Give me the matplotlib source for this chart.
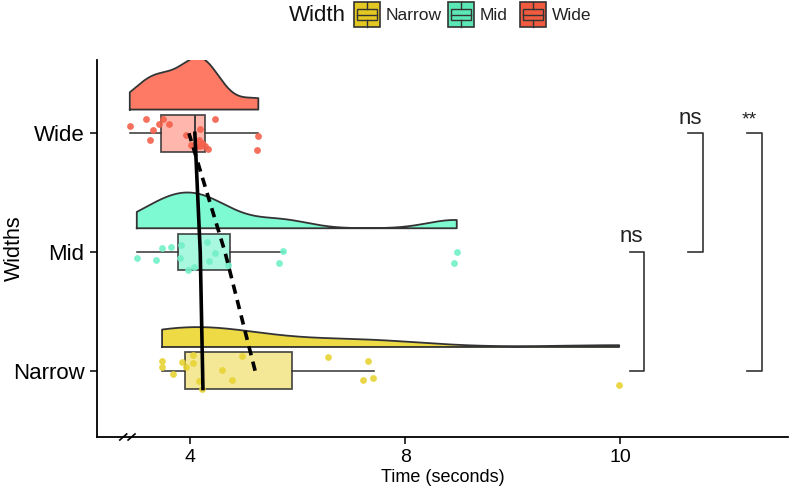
import numpy as np
import matplotlib
matplotlib.use("Agg")
import matplotlib.pyplot as plt
from matplotlib.patches import Rectangle

plt.rcParams['font.family'] = ['Liberation Sans', 'DejaVu Sans']

# ---- data (seconds) ----
groups = ['Narrow', 'Mid', 'Wide']
ypos = [1, 2, 3]

narrow_t = [3.48, 3.48, 3.68, 3.85, 3.93, 4.06, 4.06, 4.17, 4.23, 4.59, 4.78, 4.96,
            6.56, 7.22, 7.31, 7.41, 9.99]
narrow_jit = [0.084, 0.034, -0.025, 0.071, 0.034, 0.132, 0.068, -0.087, -0.154, 0.008,
              -0.078, 0.124, 0.113, -0.081, 0.084, -0.059, -0.121]
mid_t = [3.01, 3.36, 3.47, 3.65, 3.83, 3.81, 3.97, 4.08, 4.31, 4.47, 4.35, 4.70,
         5.72, 5.65, 8.48, 8.45]
mid_jit = [-0.048, -0.068, 0.034, 0.042, 0.056, -0.051, -0.149, -0.130, 0.081, -0.008,
           -0.073, -0.107, 0.011, -0.096, 0.003, -0.090]
wide_t = [2.88, 3.18, 3.26, 3.32, 3.42, 3.50, 3.60, 3.93, 4.02, 4.13, 4.17, 4.19, 4.19,
          4.22, 4.28, 4.34, 4.47, 5.25, 5.27]
wide_jit = [0.062, 0.121, -0.053, 0.028, 0.078, 0.121, 0.078, -0.017, -0.095, -0.105,
            -0.060, 0.040, -0.110, -0.085, -0.110, -0.135, 0.121, -0.138, -0.025]

# box stats: whisker low, q1, median, q3, whisker high
box_narrow = [3.48, 3.91, 4.24, 5.90, 7.42]
box_mid = [3.01, 3.78, 4.19, 4.74, 5.75]
box_wide = [2.88, 3.46, 4.09, 4.28, 5.27]
means = [5.21, 4.65, 3.98]

times = [narrow_t, mid_t, wide_t]
jits = [narrow_jit, mid_jit, wide_jit]
boxes = [box_narrow, box_mid, box_wide]

dens_col = ['#EDDA45', '#7DFAD2', '#FF7A64']
box_col = ['#F3E585', '#98F7DA', '#FFA99F']
pt_col = ['#E8D335', '#72F0C8', '#F4604A']
key_col = ['#E3C822', '#5CE8B6', '#F05B40']
edge = '#333333'


# axis: 4 -> 8 -> 10 spaced evenly
def fwd(x):
    x = np.asarray(x, float)
    return np.where(x < 8, (x - 4) / 4, 1 + (x - 8) / 2)


def inv(u):
    u = np.asarray(u, float)
    return np.where(u < 1, 4 + 4 * u, 8 + 2 * (u - 1))


def kde(vals, adjust=1.15):
    u = fwd(vals)
    n = len(u)
    sd = u.std(ddof=1)
    iqr = np.subtract(*np.percentile(u, [75, 25]))
    bw = adjust * 0.9 * min(sd, iqr / 1.34) * n ** -0.2
    grid = np.linspace(u.min(), u.max(), 400)
    d = np.exp(-0.5 * ((grid[:, None] - u[None, :]) / bw) ** 2).sum(1) / (n * bw * np.sqrt(2 * np.pi))
    return inv(grid), d


fig = plt.figure(figsize=(7.93, 4.91), dpi=100)
ax = fig.add_axes([97 / 793, 54 / 491, 691 / 793, 377 / 491])
ax.set_xscale('function', functions=(fwd, inv))

dens = [kde(t) for t in times]
dmax = max(d.max() for _, d in dens)
for i in range(3):
    gx, d = dens[i]
    h = d / dmax * 0.44
    base = ypos[i] + 0.2
    ax.fill_between(gx, base, base + h, color=dens_col[i], lw=0, zorder=2)
    ax.plot(np.r_[gx[0], gx, gx[-1], gx[0]], np.r_[base, base + h, base, base],
            color=edge, lw=1.3, zorder=3)

    ax.scatter(times[i], ypos[i] + np.array(jits[i]), s=24, color=pt_col[i],
               alpha=0.9, lw=0, zorder=5)

    st = dict(whislo=boxes[i][0], q1=boxes[i][1], med=boxes[i][2], q3=boxes[i][3],
              whishi=boxes[i][4], fliers=[])
    ax.bxp([st], positions=[ypos[i]], vert=False, widths=0.31, patch_artist=True,
           showcaps=False,
           boxprops=dict(facecolor=box_col[i], edgecolor=edge, lw=1.3, alpha=0.85),
           medianprops=dict(color=edge, lw=1.3),
           whiskerprops=dict(color=edge, lw=1.1), zorder=4)

meds = [b[2] for b in boxes]
ax.plot(meds, [0.85, 2, 3], color='black', lw=2.6, zorder=7)
ax.plot(means, ypos, color='black', lw=2.6, ls=(0, (2.6, 1.8)), zorder=7)


# significance brackets
def bracket(x0, x1, ylo, yhi, label, fs):
    ax.plot([x0, x1, x1, x0], [ylo, ylo, yhi, yhi], color=edge, lw=1.2, clip_on=False)
    ax.text((x0 + x1) / 2 - 0.05, yhi + 0.04, label, ha='center', va='bottom', fontsize=fs,
            color='#222222')


bracket(10.09, 10.22, 1, 2, 'ns', 16)
bracket(10.63, 10.77, 2, 3, 'ns', 16)
bracket(11.18, 11.32, 1, 3, '**', 14)

ax.set_xlim(2.27, 11.56)
ax.set_ylim(0.4415, 3.6175)
ax.set_xticks([4, 8, 10])
ax.set_xticklabels(['4', '8', '10'], fontsize=14)
ax.set_yticks(ypos)
ax.set_yticklabels(groups, fontsize=16)
ax.minorticks_off()
ax.set_xlabel('Time (seconds)', fontsize=13, labelpad=2)
ax.set_ylabel('Widths', fontsize=15.5)
ax.yaxis.set_label_coords(-0.105, 0.5)
for s in ['top', 'right']:
    ax.spines[s].set_visible(False)
for s in ['left', 'bottom']:
    ax.spines[s].set_linewidth(1.3)
ax.tick_params(length=5, width=1.1, color='black', pad=4)

# axis break mark
for xb in [0.038, 0.050]:
    ax.plot([xb - 0.005, xb + 0.005], [-0.008, 0.008], transform=ax.transAxes,
            color='black', lw=1.2, clip_on=False)

# legend drawn in pixel space on an overlay axes
lax = fig.add_axes([0, 0, 1, 1])
lax.set_xlim(0, 793)
lax.set_ylim(491, 0)
lax.axis('off')
lax.text(346, 15, 'Width', ha='right', va='center', fontsize=16, color='#111111')
key_x = [354, 448, 520]
kw, kh, ky = 26, 25, 2
for i in range(3):
    x0 = key_x[i]
    lax.add_patch(Rectangle((x0, ky), kw, kh, fc=key_col[i], ec=edge, lw=1.2))
    lax.add_patch(Rectangle((x0 + 3, ky + 7), kw - 6, kh - 14, fc='none', ec=edge, lw=1.0))
    lax.plot([x0 + 3, x0 + kw - 3], [ky + kh / 2] * 2, color=edge, lw=1.0)
    lax.plot([x0 + kw / 2] * 2, [ky, ky + 7], color=edge, lw=1.0)
    lax.plot([x0 + kw / 2] * 2, [ky + kh - 7, ky + kh], color=edge, lw=1.0)
    lax.text(x0 + kw + 6, 15, groups[i], ha='left', va='center', fontsize=12.5,
             color='#222222')

fig.savefig('out.png', dpi=100)
